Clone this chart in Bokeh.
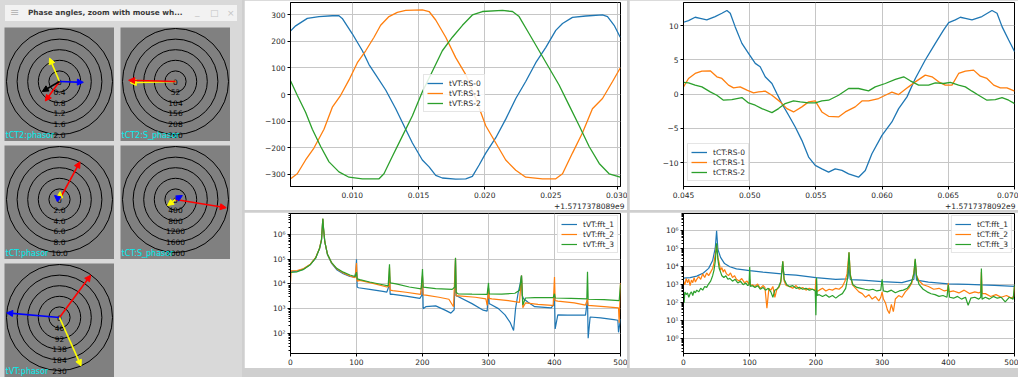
import math
from bokeh.plotting import figure
from bokeh.layouts import row, column
from bokeh.models import (Spacer, Div, Arrow, NormalHead, Label, Range1d, FixedTicker,
                          CustomJSTickFormatter, Title)
from bokeh.embed import file_html
from bokeh.resources import INLINE
from bokeh.core.properties import value

FONT = "DejaVu Sans"
C_BLUE, C_ORANGE, C_GREEN = "#1f77b4", "#ff7f0e", "#2ca02c"

# ---------------- phasor panels ----------------
tct2_rings = [0, 0.4, 0.8, 1.2, 1.6, 2.0]
tct2_labels = ["0", "0.4", "0.8", "1.2", "1.6", "2.0"]
tct2_colors = ["red", "yellow", "blue", "black"]
tct2_mag = [0.91, 0.96, 0.90, 0.75]
tct2_ang = [234, 113, -2, 210]

tct2s_rings = [0, 52, 104, 156, 208, 260]
tct2s_labels = ["0", "52", "104", "156", "208", "260"]
tct2s_colors = ["yellow", "red"]
tct2s_mag = [222, 230]
tct2s_ang = [181.5, 178.5]

tct_rings = [0, 2.0, 4.0, 6.0, 8.0, 10.0]
tct_labels = ["0", "2.0", "4.0", "6.0", "8.0", "10.0"]
tct_colors = ["red", "yellow", "blue"]
tct_mag = [8.1, 1.5, 1.2]
tct_ang = [61.5, 85, 141]

tcts_rings = [0, 400, 800, 1200, 1600, 2000]
tcts_labels = ["0", "400", "800", "1200", "1600", "2000"]
tcts_colors = ["red", "yellow", "blue"]
tcts_mag = [1940, 375, 300]
tcts_ang = [-9.2, 217, 30]

tvt_rings = [0, 46, 92, 138, 184, 230]
tvt_labels = ["0", "46", "92", "138", "184", "230"]
tvt_colors = ["red", "blue", "yellow"]
tvt_mag = [228, 230, 230]
tvt_ang = [53.6, 175, -66]

# ---------------- tVT:RS time series (ms after offset) ----------------
vt_t0 = [5.34, 5.72, 6.60, 7.48, 8.49, 8.99, 9.24, 10.00, 10.76, 11.26, 11.76, 12.52, 13.28,
         14.03, 14.54, 15.29, 15.80, 16.30, 16.80, 17.81, 18.57, 19.07, 19.58, 20.08, 20.84,
         21.59, 22.35, 23.10, 23.86, 24.62, 25.37, 25.88, 26.63, 27.64, 28.90, 29.28, 29.78, 30.24]
vt_rs0 = [240, 259, 287, 294, 297, 297, 287, 229, 165, 113, 75, 17, -54, -131, -183, -247, -273,
          -305, -315, -319, -318, -309, -266, -221, -163, -93, -15, 49, 120, 178, 242, 268, 291,
          296, 300, 294, 261, 216]
vt_t1 = [5.34, 5.84, 6.47, 7.10, 7.86, 8.49, 9.12, 9.75, 10.38, 11.01, 11.64, 12.14, 12.77, 13.40,
         14.03, 15.29, 15.80, 16.30, 17.06, 17.81, 18.57, 19.32, 20.08, 20.84, 21.59, 22.35, 23.10,
         24.36, 25.37, 25.88, 26.63, 27.39, 28.14, 28.90, 29.66, 30.24]
vt_rs1 = [-318, -299, -247, -202, -131, -48, -3, 55, 120, 165, 216, 261, 294, 310, 317, 319, 313,
          281, 216, 139, 75, -15, -118, -183, -247, -286, -312, -318, -318, -299, -221, -144, -54,
          -15, 49, 100]
vt_t2 = [5.34, 5.84, 6.47, 6.98, 7.61, 8.24, 8.99, 9.75, 10.76, 12.02, 12.39, 13.02, 13.78, 14.54,
         15.29, 16.05, 16.80, 17.56, 18.32, 19.07, 19.83, 21.34, 22.10, 22.60, 23.36, 24.11, 24.87,
         25.62, 26.38, 27.14, 27.89, 28.65, 29.40, 30.24]
vt_rs2 = [51, -3, -67, -131, -196, -254, -292, -312, -318, -318, -299, -234, -157, -80, 10, 88, 165,
          216, 261, 300, 313, 317, 313, 294, 229, 165, 100, 36, -41, -118, -196, -260, -299, -312]

# ---------------- tCT:RS time series (ms after offset) ----------------
ct_t0 = [45.00, 45.38, 45.88, 46.26, 46.76, 47.39, 47.90, 48.28, 48.53, 48.90, 49.41, 49.91, 50.42,
         50.79, 51.17, 51.68, 52.05, 52.43, 52.94, 53.44, 53.94, 54.45, 54.95, 55.45, 55.96, 56.46,
         56.97, 57.47, 58.22, 58.73, 59.23, 59.99, 60.74, 61.25, 61.88, 62.51, 63.26, 64.02, 64.65,
         65.03, 65.53, 65.91, 66.29, 66.79, 67.54, 68.30, 68.68, 69.06, 69.56, 70.01]
ct_rs0 = [10.49, 10.73, 11.22, 11.07, 10.83, 11.32, 11.8, 12.2, 11.8, 9.85, 7.41, 5.95, 4.49, 4.0,
          2.54, 1.56, 0.1, -1.37, -3.07, -4.78, -6.73, -9.17, -10.39, -10.88, -11.37, -10.88,
          -11.12, -11.61, -12.1, -11.12, -8.68, -6.0, -4.05, -2.1, -0.39, 2.29, 4.98, 7.41, 9.37,
          10.44, 10.83, 11.22, 11.07, 10.83, 11.32, 12.2, 11.8, 9.85, 7.9, 6.2]
ct_t1 = [45.00, 45.38, 45.88, 46.39, 47.02, 47.52, 47.90, 48.40, 48.78, 49.28, 49.79, 50.29, 50.67,
         51.17, 51.68, 52.31, 52.81, 53.31, 53.94, 54.45, 54.95, 55.45, 55.96, 56.71, 57.22, 57.97,
         58.48, 58.98, 59.74, 60.24, 60.74, 61.25, 62.00, 62.51, 63.26, 63.77, 64.27, 64.77, 65.28,
         65.78, 66.29, 66.91, 67.42, 67.92, 68.43, 68.93, 69.43, 70.01]
ct_rs1 = [1.07, 2.29, 3.02, 3.37, 3.41, 2.54, 2.29, 1.32, 0.93, 1.07, 0.59, 0.2, 0.34, 0.44, -0.15,
          -1.12, -2.1, -2.59, -1.85, -1.12, -0.98, -2.59, -3.22, -3.32, -2.59, -1.85, -0.98, -0.98,
          -0.63, -0.15, 0.29, -0.05, 1.07, 1.8, 2.78, 2.54, 1.8, 1.32, 1.32, 3.02, 3.37, 3.51, 2.63,
          2.29, 1.32, 0.93, 0.93, 0.44]
ct_t2 = [45.00, 45.38, 45.88, 46.39, 47.02, 47.52, 48.02, 48.65, 49.41, 49.91, 50.42, 50.92, 51.68,
         52.18, 52.68, 53.31, 53.82, 54.45, 54.95, 55.45, 55.96, 56.71, 57.47, 58.22, 58.98, 59.48,
         60.24, 61.00, 61.63, 62.13, 62.76, 63.51, 64.02, 64.65, 65.15, 65.78, 66.29, 66.79, 67.29,
         67.92, 68.55, 69.06, 69.56, 70.01]
ct_rs2 = [1.71, 1.66, 1.32, 1.07, 0.34, -0.15, -0.88, -0.78, -0.49, -1.27, -1.61, -2.1, -2.68, -2.1,
          -1.37, -0.98, -1.12, -1.27, -1.27, -0.98, -0.88, -0.15, 0.83, 0.83, 0.49, 1.07, 1.56, 2.15,
          2.54, 1.95, 1.32, 1.32, 1.66, 1.56, 1.71, 1.32, 1.07, 0.44, -0.15, -0.88, -0.78, -0.49,
          -0.88, -1.37]

# ---------------- tVT:fft spectra ----------------
vf1_f = [0, 10, 20, 30, 38, 44, 47, 49, 50, 52, 56, 62, 70, 80, 90, 97, 99, 100, 101, 103, 120, 140,
         146, 149, 150, 151, 153, 175, 196, 199, 200, 201, 205, 220, 235, 243, 248, 250, 251, 253,
         275, 292, 298, 300, 301, 303, 315, 325, 333, 338, 341, 345, 348, 350, 351, 353, 360, 370,
         395, 399, 400, 401, 405, 420, 447, 450, 451, 454, 470, 490, 496, 497, 500]
vf1_v = [3.2e4, 3.3e4, 4.0e4, 6.1e4, 1.1e5, 2.7e5, 6.2e5, 4.2e6, 1.8e6, 5e5, 1.55e5, 7e4, 3.8e4,
         2.6e4, 2.0e4, 1.9e4, 3e4, 1.0e5, 7.5e3, 7e3, 6.0e3, 5.0e3, 4.7e3, 8e3, 2.0e4, 3.8e3, 3.9e3,
         3.2e3, 2.6e3, 3.5e3, 1.8e4, 1.0e3, 1.2e3, 1.3e3, 8.5e2, 6.6e2, 9e2, 9.0e4, 3.3e3, 3.2e3,
         1.6e3, 8.7e2, 8e2, 7.0e3, 1.6e3, 1.5e3, 1.0e3, 5.6e2, 2.7e2, 1.3e2, 1e3, 4.5e3, 1e4, 2.2e4,
         3.5e3, 2.5e3, 1.8e3, 1.2e3, 1.07e3, 1.5e3, 3.3e3, 1.5e2, 5.6e2, 5.5e2, 5.5e2, 2.5e3, 6.3e1,
         4.6e2, 4.2e2, 3.6e2, 3.4e2, 1.1e2, 3.8e2]
vf2_f = [0, 1, 10, 20, 30, 38, 44, 47, 49, 50, 52, 56, 62, 70, 80, 90, 98, 100, 101, 105, 125, 146,
         149, 150, 151, 155, 175, 197, 200, 201, 205, 225, 240, 247, 250, 251, 255, 280, 296, 298,
         300, 301, 305, 330, 347, 350, 352, 356, 375, 396, 398, 400, 401, 405, 430, 447, 450, 451,
         475, 497, 498, 500]
vf2_v = [1.2e4, 3.4e4, 3.5e4, 4.2e4, 6.3e4, 1.15e5, 2.8e5, 6.5e5, 4.3e6, 1.8e6, 5.0e5, 1.6e5, 7.3e4,
         4.1e4, 2.8e4, 2.1e4, 1.8e4, 7.0e4, 1.3e4, 1.4e4, 1.05e4, 7.5e3, 8e3, 4.6e4, 5.6e3, 5.4e3,
         4.6e3, 3.8e3, 2.2e4, 3.6e3, 3.5e3, 2.9e3, 2.4e3, 1.2e3, 1.1e5, 3.3e3, 3.3e3, 2.9e3, 2.5e3,
         1.35e3, 6.7e3, 2.6e3, 2.5e3, 2.1e3, 1.8e3, 2.2e4, 1.1e3, 1.7e3, 1.5e3, 1.35e3, 1.3e3, 1.9e4,
         2.1e3, 2.0e3, 1.7e3, 1.4e3, 2.5e3, 1.35e3, 1.2e3, 1.07e3, 2.7e2, 1.1e4]
vf3_f = [0, 10, 20, 30, 38, 44, 47, 49, 50, 52, 56, 62, 70, 80, 90, 98, 100, 101, 105, 120, 140, 148,
         150, 151, 160, 180, 198, 200, 201, 220, 245, 249, 250, 251, 254, 275, 298, 300, 301, 320,
         340, 347, 350, 352, 356, 370, 398, 400, 401, 425, 449, 450, 451, 475, 498, 500]
vf3_v = [2.9e4, 3.1e4, 3.9e4, 6.0e4, 1.1e5, 2.7e5, 6.0e5, 4.4e6, 1.8e6, 5.0e5, 1.6e5, 7.5e4, 4.3e4,
         3.0e4, 2.3e4, 2.0e4, 3.0e4, 1.6e4, 1.5e4, 1.2e4, 9.3e3, 8.3e3, 6.2e4, 1.1e4, 1.0e4, 7.5e3,
         6.3e3, 4.0e4, 7.4e3, 6.5e3, 6.0e3, 7.5e3, 1.15e5, 4.5e3, 4.0e3, 3.9e3, 3.8e3, 1.1e4, 4.0e3,
         3.9e3, 4.2e3, 5.5e3, 2.2e4, 1.4e3, 2.7e3, 2.8e3, 2.8e3, 4.0e3, 2.7e3, 2.6e3, 2.5e3, 3.1e4,
         2.4e3, 2.3e3, 2.1e3, 9.5e3]

# ---------------- tCT:fft spectra ----------------
cf1_f = [0, 10, 20, 30, 38, 44, 48, 50, 52, 56, 62, 70, 80, 100, 120, 148, 150, 152, 170, 200, 230,
         248, 250, 252, 270, 300, 330, 348, 350, 352, 370, 400, 430, 450, 470, 500]
cf1_v = [2.3e3, 2.5e3, 3.0e3, 4.5e3, 8.1e3, 2.2e4, 1.1e5, 1.0e6, 9.0e4, 3.3e4, 1.5e4, 1.0e4, 7.6e3,
         6.0e3, 5.0e3, 4.0e3, 8e3, 3.8e3, 3.4e3, 2.5e3, 2.0e3, 2.1e3, 1.0e4, 1.9e3, 1.8e3, 1.5e3,
         1.3e3, 2.0e3, 2.0e4, 1.8e3, 1.4e3, 1.1e3, 1.05e3, 9.8e2, 9.3e2, 8.0e2]
cf2_f = [0, 2, 4, 6, 8, 10, 12, 14, 16, 18,
         20, 23, 26, 29, 32, 35, 38, 41, 44, 46,
         48, 50, 52, 54, 56, 58, 60, 62, 65, 68,
         71, 74, 77, 80, 84, 88, 92, 96, 99, 100,
         101, 104, 108, 112, 116, 120, 123, 126, 129, 132,
         135, 138, 141, 144, 147, 150, 152, 155, 160, 165,
         170, 175, 180, 185, 190, 195, 199, 200, 201, 205,
         210, 215, 220, 225, 230, 235, 240, 244, 247, 250,
         252, 255, 260, 265, 270, 275, 280, 285, 290, 295,
         298, 300, 302, 305, 308, 311, 314, 317, 320, 325,
         330, 335, 340, 345, 348, 350, 352, 356, 362, 370,
         378, 386, 394, 399, 400, 401, 408, 416, 424, 432,
         440, 446, 449, 450, 451, 456, 464, 472, 480, 488,
         495, 499, 500]
cf2_v = [1600, 1000, 2200, 1300, 2000, 900, 1800, 1300, 2500, 1400,
         2000, 2800, 2000, 4000, 2500, 4500, 3200, 5000, 8000, 1.6e4,
         5.0e4, 1.6e5, 3.2e4, 1.6e4, 6300, 9000, 5000, 7000, 4000, 3200,
         4500, 2500, 3200, 2000, 1600, 2200, 1300, 1600, 1000, 2000,
         900, 1000, 800, 1100, 630, 900, 700, 50, 630, 500,
         800, 200, 560, 700, 1300, 2.0e4, 1600, 900, 800, 630,
         900, 560, 700, 500, 630, 560, 500, 2000, 400, 500,
         630, 450, 560, 500, 630, 560, 800, 1600, 4000, 6.3e4,
         4000, 1000, 630, 400, 320, 200, 280, 160, 220, 125,
         200, 400, 160, 100, 40, 25, 80, 32, 160, 250,
         200, 400, 630, 1250, 5000, 2.5e4, 3200, 1600, 1000, 800,
         560, 630, 450, 500, 1250, 400, 450, 350, 500, 320,
         400, 350, 400, 5000, 320, 320, 220, 280, 200, 250,
         180, 220, 800]
cf3_f = [0, 1, 2, 4, 6, 8, 10, 12, 14, 16,
         18, 20, 23, 26, 29, 32, 35, 38, 41, 44,
         46, 48, 50, 52, 54, 56, 58, 61, 64, 67,
         70, 74, 78, 82, 86, 90, 94, 97, 99, 100,
         101, 104, 108, 112, 116, 120, 124, 128, 132, 135,
         138, 141, 144, 147, 150, 152, 156, 160, 165, 170,
         175, 180, 185, 190, 195, 199, 200, 201, 202, 205,
         210, 215, 220, 225, 230, 235, 240, 245, 248, 250,
         252, 256, 262, 268, 274, 280, 286, 292, 298, 300,
         302, 308, 314, 320, 326, 332, 338, 344, 348, 350,
         352, 356, 362, 368, 374, 380, 386, 392, 398, 400,
         402, 408, 414, 420, 426, 430, 434, 440, 446, 449,
         450, 451, 456, 462, 468, 474, 480, 486, 492, 498,
         500]
cf3_v = [316, 100, 398, 282, 355, 200, 316, 398, 251, 447,
         355, 501, 398, 631, 501, 794, 708, 1120, 1580, 3160,
         6300, 2.0e4, 2.0e5, 2.5e4, 7900, 5000, 3160, 2510, 3160, 2000,
         2240, 1580, 2000, 1260, 1580, 1000, 1260, 890, 1000, 1.0e4,
         790, 890, 710, 890, 560, 710, 500, 630, 400, 200,
         500, 560, 790, 1580, 2.0e4, 2000, 1000, 790, 890, 630,
         710, 560, 630, 500, 560, 450, 20, 2510, 250, 280,
         220, 280, 200, 250, 180, 250, 320, 630, 2510, 6.3e4,
         3160, 1000, 710, 630, 560, 500, 560, 450, 500, 2000,
         450, 400, 500, 355, 450, 500, 630, 1260, 3980, 2.8e4,
         3160, 1000, 560, 400, 316, 280, 224, 251, 200, 1000,
         200, 178, 224, 158, 200, 71, 178, 200, 158, 200,
         7900, 158, 200, 158, 224, 178, 200, 112, 200, 158,
         1000]

# ---------------- axis ticks ----------------
vt_xticks = [0.010, 0.015, 0.020, 0.025, 0.030]
vt_yticks = [-300, -200, -100, 0, 100, 200, 300]
ct_xticks = [0.045, 0.050, 0.055, 0.060, 0.065, 0.070]
ct_yticks = [-10, -5, 0, 5, 10]
fft_xticks = [0, 100, 200, 300, 400, 500]
vf_yticks = [1e2, 1e3, 1e4, 1e5, 1e6]
cf_yticks = [1e0, 1e1, 1e2, 1e3, 1e4, 1e5, 1e6]


def phasor_panel(name, rings, ring_labels, mags, angs, colors):
    W, H, RPX, CX, CY = 110, 114, 53, 55, 54
    k = RPX / rings[-1]
    p = figure(width=W, height=H, x_range=Range1d(-CX / k, (W - CX) / k),
               y_range=Range1d(-(H - CY) / k, CY / k), x_axis_location=None, y_axis_location=None,
               toolbar_location=None, output_backend="svg", min_border=0,
               background_fill_color="#808080", border_fill_color="#808080",
               outline_line_color=None)
    p.grid.visible = False
    n = len(rings) - 1
    p.circle(x=[0] * n, y=[0] * n, radius=rings[1:], fill_color=None, line_color="black",
             line_width=1)
    p.text(x=[0] * len(rings), y=[-r for r in rings], text=ring_labels, text_align="center",
           text_baseline="middle", text_font=value(FONT), text_font_size="7.5px",
           text_color="black")
    for m, a, c in zip(mags, angs, colors):
        xe = m * math.cos(math.radians(a))
        ye = m * math.sin(math.radians(a))
        p.add_layout(Arrow(end=NormalHead(size=6, fill_color=c, line_color=c, line_width=1),
                           x_start=0, y_start=0, x_end=xe, y_end=ye, line_color=c,
                           line_width=1.6))
    p.add_layout(Label(x=1, y=2, x_units="screen", y_units="screen", text=name,
                       text_color="#00f0f0", text_font=FONT, text_font_size="8px"))
    return p


def style(p):
    p.outline_line_color = "black"
    p.outline_line_width = 1
    for ax in p.axis:
        ax.axis_line_color = "black"
        ax.major_tick_line_color = "black"
        ax.major_tick_out = 3
        ax.major_tick_in = 0
        ax.minor_tick_line_color = None
        ax.major_label_text_font = FONT
        ax.major_label_text_font_size = "7.5px"
        ax.major_label_text_color = "#262626"
        ax.major_label_standoff = 2
    p.grid.grid_line_color = "#c6c6c6"
    p.grid.grid_line_width = 1


def style_legend(p, loc, margin):
    lg = p.legend[0]
    lg.location = loc
    lg.margin = margin
    lg.label_text_font = FONT
    lg.label_text_font_size = "7.5px"
    lg.label_text_color = "#262626"
    lg.glyph_width = 16
    lg.glyph_height = 10
    lg.label_height = 10
    lg.spacing = 0
    lg.padding = 3
    lg.label_standoff = 6
    lg.border_line_color = "#cccccc"
    lg.background_fill_alpha = 0.85


minus_fmt = CustomJSTickFormatter(code="return (tick < 0 ? '\u2212' : '') + Math.abs(tick).toString();")
fix3_fmt = CustomJSTickFormatter(code="return tick.toFixed(3);")
int_fmt = CustomJSTickFormatter(code="return tick.toFixed(0);")
sup_code = """
const s = {'0':'\u2070','1':'\u00b9','2':'\u00b2','3':'\u00b3','4':'\u2074','5':'\u2075','6':'\u2076','7':'\u2077','8':'\u2078','9':'\u2079','-':'\u207b'};
const e = Math.round(Math.log10(tick));
return '10' + String(e).split('').map(c => s[c]).join('');
"""


def ts_fig(w, bl, br, xr, yr, xticks, yticks, series, offset_text, legend_loc, names):
    p = figure(width=w, height=210, x_range=Range1d(*xr), y_range=Range1d(*yr),
               toolbar_location=None, output_backend="svg", min_border_left=bl,
               min_border_right=br, min_border_top=2, min_border_bottom=24,
               background_fill_color="white", border_fill_color="white")
    for (t, v), c, nm in zip(series, [C_BLUE, C_ORANGE, C_GREEN], names):
        p.line([x / 1000 for x in t], v, line_color=c, line_width=1.3, legend_label=nm)
    style(p)
    p.xaxis.ticker = FixedTicker(ticks=xticks)
    p.xaxis.formatter = fix3_fmt
    p.yaxis.ticker = FixedTicker(ticks=yticks)
    p.yaxis.formatter = minus_fmt
    p.add_layout(Title(text=offset_text, align="right", text_font=FONT, text_font_size="7.5px",
                       text_font_style="normal", text_color="#262626", standoff=0,
                       offset=-(br - 3)), "below")
    style_legend(p, legend_loc, 0)
    return p


def fft_fig(w, bl, br, yr, yticks, series, names):
    p = figure(width=w, height=156, x_range=Range1d(0, 500), y_range=Range1d(*yr),
               y_axis_type="log", toolbar_location=None, output_backend="svg",
               min_border_left=bl, min_border_right=br, min_border_top=1, min_border_bottom=15,
               background_fill_color="white", border_fill_color="white")
    for (f, v), c, nm in zip(series, [C_BLUE, C_ORANGE, C_GREEN], names):
        p.line(f, v, line_color=c, line_width=1.2, legend_label=nm)
    style(p)
    p.xaxis.ticker = FixedTicker(ticks=fft_xticks)
    p.xaxis.formatter = int_fmt
    lo = int(math.floor(math.log10(yr[0])))
    minors = [m * 10 ** e for e in range(lo, 7) for m in range(2, 10)]
    p.yaxis.ticker = FixedTicker(ticks=yticks, minor_ticks=minors)
    p.yaxis.formatter = CustomJSTickFormatter(code=sup_code)
    p.yaxis.minor_tick_line_color = "black"
    p.yaxis.minor_tick_out = 2
    p.yaxis.minor_tick_in = 0
    style_legend(p, "top_right", 2)
    return p


# ---------------- phasor window ----------------
title_html = (
    '<div style="position:relative;width:232px;height:16px;font-family:\'DejaVu Sans\';">'
    '<span style="position:absolute;left:5px;top:0px;font-size:11px;color:#b8b8b8;">\u2261</span>'
    '<span style="position:absolute;left:23px;top:3px;font-size:7.3px;font-weight:bold;'
    'color:#3a3a3a;white-space:nowrap;">Phase angles, zoom with mouse wh...</span>'
    '<span style="position:absolute;left:190px;top:1px;font-size:9px;color:#c4c4c4;">_</span>'
    '<span style="position:absolute;left:205px;top:2px;font-size:9px;color:#c4c4c4;">\u25a1</span>'
    '<span style="position:absolute;left:222px;top:2px;font-size:9px;color:#c4c4c4;">\u00d7</span>'
    '</div>')
title_div = Div(text=title_html, width=232, height=16,
                styles={"background-color": "#f2f2f2", "overflow": "hidden"})

pp1 = phasor_panel("tCT2:phasor", tct2_rings, tct2_labels, tct2_mag, tct2_ang, tct2_colors)
pp2 = phasor_panel("tCT2:S_phasor", tct2s_rings, tct2s_labels, tct2s_mag, tct2s_ang, tct2s_colors)
pp3 = phasor_panel("tCT:phasor", tct_rings, tct_labels, tct_mag, tct_ang, tct_colors)
pp4 = phasor_panel("tCT:S_phasor", tcts_rings, tcts_labels, tcts_mag, tcts_ang, tcts_colors)
pp5 = phasor_panel("tVT:phasor", tvt_rings, tvt_labels, tvt_mag, tvt_ang, tvt_colors)

phasor_col = column(
    title_div,
    Spacer(width=232, height=1),
    row(Spacer(width=4, height=114), pp1, Spacer(width=6, height=114), pp2),
    Spacer(width=232, height=4),
    row(Spacer(width=4, height=114), pp3, Spacer(width=6, height=114), pp4),
    Spacer(width=232, height=4),
    row(Spacer(width=4, height=114), pp5),
    styles={"background-color": "#d9d9d9"})

# ---------------- chart windows ----------------
p_vt = ts_fig(383, 46, 7, (0.00533, 0.03026), (-347, 347), vt_xticks, vt_yticks,
              [(vt_t0, vt_rs0), (vt_t1, vt_rs1), (vt_t2, vt_rs2)], "+1.5717378089e9",
              (133, 74), ["tVT:RS-0", "tVT:RS-1", "tVT:RS-2"])
p_ct = ts_fig(389, 53, 4, (0.045, 0.070), (-13.46, 13.37), ct_xticks, ct_yticks,
              [(ct_t0, ct_rs0), (ct_t1, ct_rs1), (ct_t2, ct_rs2)], "+1.5717378092e9",
              (4, 5), ["tCT:RS-0", "tCT:RS-1", "tCT:RS-2"])
p_vf = fft_fig(383, 46, 6, (15.3, 7.1e6), vf_yticks,
               [(vf1_f, vf1_v), (vf2_f, vf2_v), (vf3_f, vf3_v)],
               ["tVT:fft_1", "tVT:fft_2", "tVT:fft_3"])
p_cf = fft_fig(389, 54, 4, (0.15, 9.1e6), cf_yticks,
               [(cf1_f, cf1_v), (cf2_f, cf2_v), (cf3_f, cf3_v)],
               ["tCT:fft_1", "tCT:fft_2", "tCT:fft_3"])

mid_col = column(p_vt, p_vf, spacing=2)
right_col = column(p_ct, p_cf, spacing=2)
layout = row(phasor_col, mid_col, right_col, spacing=2,
             styles={"background-color": "#cfcfcf"})

with open("out.html", "w", encoding="utf-8") as fh:
    fh.write(file_html(layout, INLINE))
